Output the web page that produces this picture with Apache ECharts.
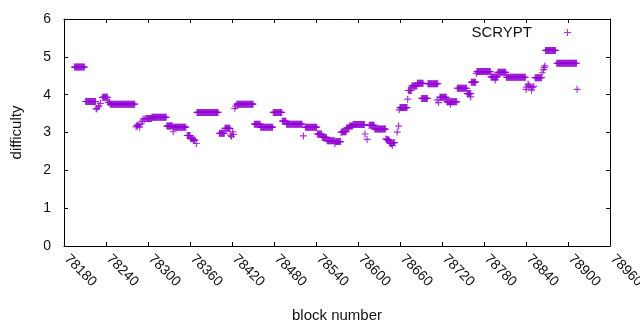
<!DOCTYPE html>
<html>
<head>
<meta charset="utf-8">
<script src="https://cdn.jsdelivr.net/npm/echarts@6/dist/echarts.min.js"></script>
<style>
  html, body { margin: 0; padding: 0; background: #fff; }
  #chart { width: 640px; height: 330px; }
</style>
</head>
<body>
<div id="chart"></div>
<script>
// difficulty runs: one point per block from runStart to runEnd, all at runValue
const runStart = [78195, 78211, 78226, 78227, 78229, 78230, 78232, 78235, 78243, 78246,
  78283, 78284, 78285, 78287, 78288, 78290, 78292, 78293, 78295, 78297,
  78306, 78327, 78336, 78337, 78356, 78361, 78365, 78369, 78370, 78402,
  78410, 78418, 78419, 78421, 78422, 78424, 78425, 78427, 78452, 78461,
  78479, 78492, 78498, 78522, 78525, 78542, 78549, 78556, 78567, 78568,
  78576, 78577, 78584, 78588, 78593, 78610, 78613, 78616, 78624, 78640,
  78641, 78645, 78646, 78649, 78650, 78656, 78658, 78659, 78660, 78671,
  78672, 78677, 78685, 78691, 78700, 78713, 78715, 78717, 78727, 78732,
  78742, 78756, 78761, 78762, 78769, 78770, 78790, 78796, 78800, 78812,
  78840, 78841, 78843, 78844, 78846, 78848, 78849, 78851, 78853, 78863,
  78865, 78866, 78867, 78868, 78884, 78913]
const runEnd = [78209, 78225, 78226, 78227, 78229, 78230, 78232, 78242, 78245, 78281,
  78283, 78284, 78285, 78287, 78288, 78290, 78292, 78293, 78295, 78305,
  78326, 78335, 78336, 78354, 78360, 78364, 78367, 78369, 78400, 78409,
  78417, 78418, 78419, 78421, 78422, 78424, 78425, 78450, 78460, 78478,
  78491, 78497, 78520, 78522, 78541, 78548, 78555, 78566, 78567, 78575,
  78576, 78583, 78587, 78592, 78609, 78610, 78613, 78623, 78639, 78640,
  78644, 78645, 78648, 78649, 78652, 78656, 78658, 78659, 78670, 78671,
  78676, 78684, 78693, 78699, 78714, 78713, 78715, 78726, 78741, 78732,
  78755, 78761, 78761, 78768, 78769, 78789, 78799, 78796, 78811, 78839,
  78840, 78841, 78843, 78844, 78846, 78848, 78849, 78851, 78862, 78863,
  78865, 78866, 78867, 78882, 78912, 78913]
const runValue = [4.73, 3.82, 3.62, 3.64, 3.68, 3.70, 3.77, 3.93, 3.80, 3.75,
  3.15, 3.19, 3.17, 3.21, 3.14, 3.23, 3.30, 3.36, 3.35, 3.37,
  3.40, 3.17, 3.02, 3.14, 2.92, 2.84, 2.80, 2.71, 3.53, 2.98,
  3.11, 2.93, 2.90, 3.02, 2.95, 3.64, 3.70, 3.75, 3.22, 3.14,
  3.53, 3.30, 3.22, 2.91, 3.14, 2.96, 2.87, 2.78, 2.71, 2.76,
  3.00, 3.02, 3.12, 3.17, 3.21, 2.96, 2.82, 3.19, 3.09, 2.83,
  2.81, 2.77, 2.71, 2.66, 2.73, 3.01, 3.17, 3.60, 3.66, 3.88,
  4.11, 4.23, 4.30, 3.90, 4.29, 3.86, 3.79, 3.93, 3.81, 3.75,
  4.17, 4.03, 3.94, 4.33, 4.56, 4.61, 4.47, 4.39, 4.59, 4.46,
  4.14, 4.20, 4.28, 4.25, 4.21, 4.12, 4.19, 4.22, 4.45, 4.58,
  4.66, 4.72, 4.76, 5.17, 4.83, 4.14]

const seriesName = 'SCRYPT'
const xTitle = 'block number'
const yTitle = 'difficulty'

const points = []
runStart.forEach((start, i) => {
  for (let b = start; b <= runEnd[i]; b++) {
    points.push([b, runValue[i]])
  }
})

const font = 'Liberation Sans, Arial, sans-serif'
const plus = 'path://M4.15,0h1.7v4.15h4.15v1.7h-4.15v4.15h-1.7v-4.15h-4.15v-1.7h4.15z'
const purple = '#9400d3'
const ink = '#111'

const frameAxis = {
  axisLine: { onZero: false, lineStyle: { color: '#000', width: 1 } },
  axisTick: { inside: true, length: 4, lineStyle: { color: '#000' } },
  splitLine: { show: false }
}

const chart = echarts.init(document.getElementById('chart'))
chart.setOption({
  animation: false,
  grid: { left: 64, right: 30, top: 19, bottom: 84, outerBoundsMode: 'none', containLabel: false },
  legend: {
    data: [{ name: seriesName, icon: plus }],
    right: 64,
    top: 20,
    align: 'right',
    itemWidth: 7,
    itemHeight: 7,
    textStyle: { fontSize: 15, fontFamily: font, color: ink, padding: [0, 27, 0, 0] }
  },
  xAxis: [
    Object.assign({
      type: 'value', min: 78180, max: 78960, interval: 60, position: 'bottom',
      name: xTitle, nameLocation: 'middle', nameGap: 62,
      nameTextStyle: { fontSize: 15, fontFamily: font, color: ink },
      axisLabel: {
        rotate: -45, fontSize: 14, fontFamily: font, color: ink, margin: 8,
        padding: [0, 0, 0, 4],
        showMaxLabel: true, hideOverlap: false,
        formatter: (v) => String(v)
      }
    }, frameAxis),
    Object.assign({
      type: 'value', min: 78180, max: 78960, interval: 60, position: 'top',
      axisLabel: { show: false }
    }, frameAxis)
  ],
  yAxis: [
    Object.assign({
      type: 'value', min: 0, max: 6, interval: 1, position: 'left',
      name: yTitle, nameLocation: 'middle', nameGap: 40, nameRotate: 90,
      nameTextStyle: { fontSize: 15, fontFamily: font, color: ink },
      axisLabel: { fontSize: 14, fontFamily: font, color: ink, margin: 13 }
    }, frameAxis),
    Object.assign({
      type: 'value', min: 0, max: 6, interval: 1, position: 'right',
      axisLabel: { show: false }
    }, frameAxis)
  ],
  series: [{
    name: seriesName,
    type: 'scatter',
    symbol: plus,
    symbolSize: 7,
    itemStyle: { color: purple },
    data: points
  }]
})
</script>
</body>
</html>
